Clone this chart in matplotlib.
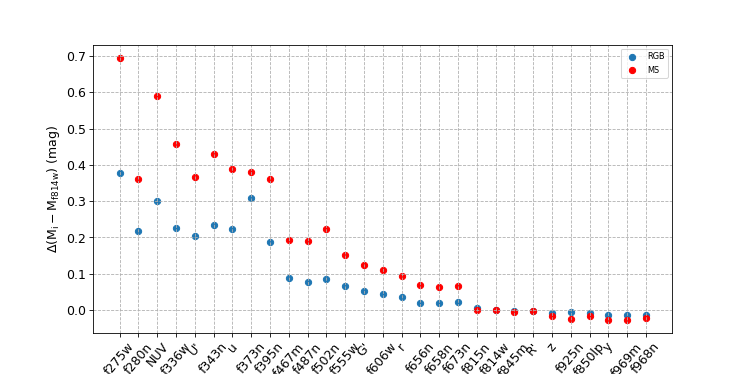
import numpy as np
import matplotlib
matplotlib.use("Agg")
import matplotlib.pyplot as plt

filtros = ["f275w", "f280n", "NUV", "f336w", "U'", "f343n", "u", "f373n", "f395n",
           "f467m", "f487n", "f502n", "f555w", "G'", "f606w", "r", "f656n", "f658n",
           "f673n", "f815n", "f814w", "f845m", "R'", "z", "f925n", "f850lp", "y",
           "f969m", "f968n"]

delta_rgb = [0.377, 0.217, 0.301, 0.226, 0.205, 0.235, 0.224, 0.309, 0.186,
             0.087, 0.077, 0.084, 0.066, 0.053, 0.045, 0.035, 0.018, 0.018,
             0.021, 0.005, 0.000, -0.002, -0.003, -0.009, -0.006, -0.009, -0.014,
             -0.014, -0.014]

delta_ms = [0.695, 0.361, 0.589, 0.457, 0.365, 0.431, 0.389, 0.379, 0.362,
            0.193, 0.191, 0.223, 0.152, 0.123, 0.111, 0.094, 0.069, 0.063,
            0.066, -0.001, 0.000, -0.005, -0.003, -0.018, -0.024, -0.017, -0.027,
            -0.027, -0.023]

x = np.arange(len(filtros))

plt.figure(figsize=(10, 5.01), dpi=74.7)
plt.scatter(x, delta_rgb, label='RGB')
plt.scatter(x, delta_ms, color='red', label='MS')
plt.xticks(x, filtros, rotation=50, fontsize=12)
plt.yticks(fontsize=12)
plt.ylabel(r'$\Delta(\rm M_i - M_{f814w})$ (mag)', fontsize=12)
plt.grid(True, linestyle='--')
plt.legend(fontsize=8)
plt.savefig('out.png', dpi=74.7)
